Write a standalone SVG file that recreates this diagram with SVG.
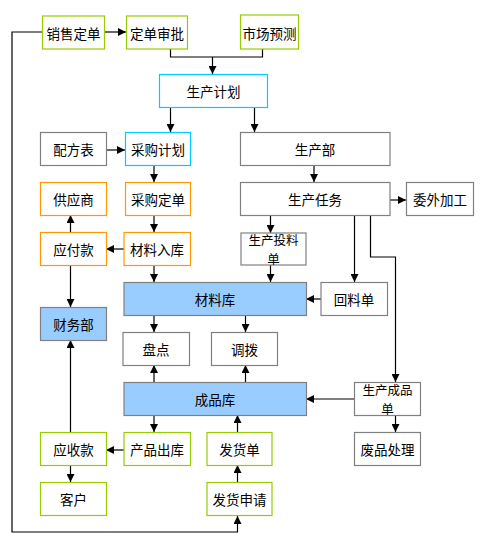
<svg xmlns="http://www.w3.org/2000/svg" width="483" height="542" viewBox="0 0 483 542">
<defs>
<marker id="ah" viewBox="0 0 8 8" refX="8" refY="4" markerWidth="8" markerHeight="8" markerUnits="userSpaceOnUse" orient="auto">
<path d="M0,0 L8,4 L0,8 Z" fill="#000"/>
</marker>
</defs>
<style>
rect{stroke-width:1.2;fill:#fff}
.g{stroke:#99cc00}
.c{stroke:#00ccff}
.o{stroke:#ff9900}
.k{stroke:#808080}
.b{stroke:#808080;fill:#99ccff}
text{font-family:"Noto Sans CJK SC","Liberation Sans",sans-serif;font-size:13.5px;text-anchor:middle;dominant-baseline:central;fill:#000}
.t2{font-size:12.5px}
.ln{fill:none;stroke:#000;stroke-width:1.2}
.ar{fill:none;stroke:#000;stroke-width:1.2;marker-end:url(#ah)}
</style>
<g id="connectors">
<path class="ar" d="M42,32 L12,32 L12,532 L237.5,532 L237.5,516"/>
<path class="ar" d="M105,32 L126,32"/>
<path class="ln" d="M170.5,49 L170.5,57 L262.5,57 L262.5,49"/>
<path class="ar" d="M212.5,57 L212.5,74"/>
<path class="ar" d="M170.5,107 L170.5,132"/>
<path class="ar" d="M254.5,107 L254.5,132"/>
<path class="ar" d="M106,150 L125,150"/>
<path class="ar" d="M154,165 L154,182"/>
<path class="ar" d="M154,215 L154,232"/>
<path class="ar" d="M314,165 L314,182"/>
<path class="ar" d="M390,200 L406,200"/>
<path class="ar" d="M270.5,215 L270.5,233"/>
<path class="ar" d="M354.5,215 L354.5,282"/>
<path class="ar" d="M370.5,215 L370.5,257 L395.5,257 L395.5,382"/>
<path class="ar" d="M124,249 L106,249"/>
<path class="ar" d="M70.5,232 L70.5,215"/>
<path class="ar" d="M70.5,265 L70.5,307"/>
<path class="ar" d="M154,265 L154,282"/>
<path class="ar" d="M270.5,265 L270.5,282"/>
<path class="ar" d="M321,299 L306,299"/>
<path class="ar" d="M154,315 L154,332"/>
<path class="ar" d="M245.5,315 L245.5,332"/>
<path class="ar" d="M154,382 L154,365"/>
<path class="ar" d="M245.5,382 L245.5,365"/>
<path class="ar" d="M354,399 L306,399"/>
<path class="ar" d="M154,415 L154,432"/>
<path class="ar" d="M237.5,432 L237.5,415"/>
<path class="ar" d="M395.5,415 L395.5,432"/>
<path class="ar" d="M124,450 L106,450"/>
<path class="ar" d="M70.5,432 L70.5,340"/>
<path class="ar" d="M70.5,465 L70.5,482"/>
<path class="ar" d="M237.5,482 L237.5,465"/>
</g>
<g id="n-xsdd"><rect class="g" x="42.5" y="16" width="62" height="33"/><text x="73.5" y="32.5">销售定单</text></g>
<g id="n-ddsp"><rect class="g" x="126.5" y="16" width="61" height="33"/><text x="157" y="32.5">定单审批</text></g>
<g id="n-scyc"><rect class="g" x="240.5" y="15" width="58" height="34"/><text x="269.5" y="32.5">市场预测</text></g>
<g id="n-scjh"><rect class="c" x="159.5" y="74.5" width="108" height="33"/><text x="213.5" y="91">生产计划</text></g>
<g id="n-pfb"><rect class="k" x="40.5" y="132.5" width="66" height="33"/><text x="73.5" y="149">配方表</text></g>
<g id="n-cgjh"><rect class="c" x="125.5" y="132.5" width="65" height="33"/><text x="158" y="149">采购计划</text></g>
<g id="n-scb"><rect class="k" x="240.5" y="132.5" width="149.5" height="33"/><text x="315" y="149">生产部</text></g>
<g id="n-gys"><rect class="o" x="40.5" y="182.5" width="66" height="33"/><text x="73.5" y="199">供应商</text></g>
<g id="n-cgdd"><rect class="o" x="125.5" y="182.5" width="65" height="33"/><text x="158" y="199">采购定单</text></g>
<g id="n-scrw"><rect class="k" x="240.5" y="182.5" width="149.5" height="33"/><text x="315" y="199">生产任务</text></g>
<g id="n-wwjg"><rect class="k" x="406.5" y="182.5" width="67" height="33"/><text x="440" y="199">委外加工</text></g>
<g id="n-yfk"><rect class="o" x="40.5" y="232.5" width="66" height="33"/><text x="73.5" y="249">应付款</text></g>
<g id="n-clrk"><rect class="o" x="124" y="232.5" width="66.5" height="33"/><text x="157" y="249">材料入库</text></g>
<g id="n-sctld"><rect class="k" x="241" y="233" width="65" height="32"/><text class="t2" x="273.5" y="239.5">生产投料</text><text class="t2" x="273.5" y="258.5">单</text></g>
<g id="n-clk"><rect class="b" x="124" y="282.5" width="182.5" height="33"/><text x="215" y="299">材料库</text></g>
<g id="n-hld"><rect class="k" x="321" y="282.5" width="66.5" height="33"/><text x="354" y="299">回料单</text></g>
<g id="n-cwb"><rect class="b" x="40.5" y="307.5" width="66" height="33"/><text x="73.5" y="324">财务部</text></g>
<g id="n-pd"><rect class="k" x="123" y="332.5" width="66.5" height="33"/><text x="156" y="349">盘点</text></g>
<g id="n-db"><rect class="k" x="211.5" y="332.5" width="66" height="33"/><text x="244.5" y="349">调拨</text></g>
<g id="n-cpk"><rect class="b" x="124" y="382.5" width="182.5" height="33"/><text x="215" y="399">成品库</text></g>
<g id="n-sccpd"><rect class="k" x="354.5" y="382.5" width="66" height="33"/><text class="t2" x="387.5" y="389">生产成品</text><text class="t2" x="387.5" y="408.5">单</text></g>
<g id="n-ysk"><rect class="g" x="40.5" y="432.5" width="66" height="33"/><text x="73.5" y="449">应收款</text></g>
<g id="n-cpck"><rect class="g" x="124" y="432.5" width="66.5" height="33"/><text x="157" y="449">产品出库</text></g>
<g id="n-fhd"><rect class="g" x="207" y="432.5" width="65" height="33"/><text x="239.5" y="449">发货单</text></g>
<g id="n-fpcl"><rect class="k" x="354.5" y="432.5" width="66" height="33"/><text x="387.5" y="449">废品处理</text></g>
<g id="n-kh"><rect class="g" x="40.5" y="482.5" width="66" height="33"/><text x="73.5" y="499">客户</text></g>
<g id="n-fhsq"><rect class="g" x="207" y="482.5" width="65" height="33"/><text x="239.5" y="499">发货申请</text></g>
</svg>
